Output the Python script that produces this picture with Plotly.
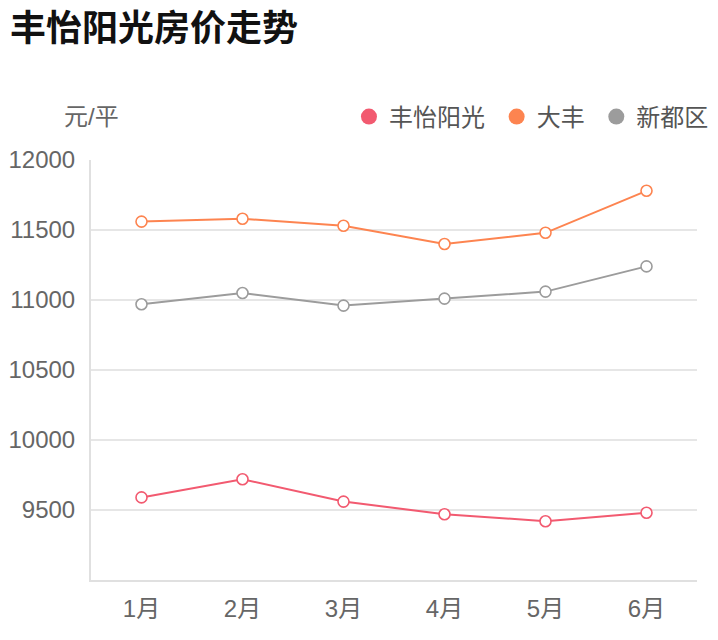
import plotly.graph_objects as go

months = ["1月", "2月", "3月", "4月", "5月", "6月"]
fengyi = [9590, 9720, 9560, 9470, 9420, 9480]
dafeng = [11560, 11580, 11530, 11400, 11480, 11780]
xindu = [10970, 11050, 10960, 11010, 11060, 11240]

names = ["丰怡阳光", "大丰", "新都区"]
colors = ["#f25a70", "#fd8450", "#9c9c9c"]
y_ticks = [9500, 10000, 10500, 11000, 11500, 12000]

font_family = "Liberation Sans, Noto Sans CJK SC, sans-serif"
# page body has an 8px margin, so the figure is a bit smaller than the window
W, H = 710, 632

fig = go.Figure()
for i, (name, vals, col) in enumerate(zip(names, [fengyi, dafeng, xindu], colors)):
    fig.add_trace(go.Scatter(
        x=months, y=vals, mode="lines+markers", name=name,
        line=dict(color=col, width=2),
        marker=dict(size=11, color="white", line=dict(color=col, width=1.6)),
        showlegend=False, hoverinfo="x+y+name",
    ))
    # legend-only dummy: solid circle
    label = name + ("\u00a0" if i < 2 else "")
    fig.add_trace(go.Scatter(
        x=[None], y=[None], mode="markers", name=label,
        marker=dict(size=20, color=col), showlegend=True,
    ))

fig.update_layout(
    width=W, height=H,
    margin=dict(l=83, r=21, t=152, b=60, autoexpand=False),
    paper_bgcolor="white", plot_bgcolor="white",
    font=dict(family=font_family, size=24, color="#666"),
    title=dict(text="<b>丰怡阳光房价走势</b>", x=2 / W, xanchor="left", y=1 - 20 / H, yanchor="middle",
               font=dict(size=36, color="#111", family=font_family)),
    legend=dict(orientation="h", x=1.028, xanchor="right", y=1.1024, yanchor="middle",
                font=dict(size=24, color="#555"), itemwidth=30, tracegroupgap=0,
                bgcolor="rgba(0,0,0,0)"),
    annotations=[dict(text="元/平", xref="paper", yref="paper", x=0, y=1.1024,
                      xanchor="center", yanchor="middle", showarrow=False,
                      font=dict(size=24, color="#666"))],
)
fig.update_xaxes(
    type="category", range=[-0.5, 5.5], showgrid=False, automargin=False,
    showline=True, linecolor="#e0e0e0", linewidth=2,
    ticks="", tickfont=dict(size=24, color="#666"), ticklabelstandoff=6,
)
fig.update_yaxes(
    range=[9000, 12000], tickvals=y_ticks, ticktext=[str(v) for v in y_ticks],
    showgrid=True, gridcolor="#e6e6e6", gridwidth=1.5, automargin=False,
    showline=True, linecolor="#e0e0e0", linewidth=2, zeroline=False,
    ticks="", tickfont=dict(size=24, color="#666"), ticklabelstandoff=9,
)

fig.write_html("out.html")
